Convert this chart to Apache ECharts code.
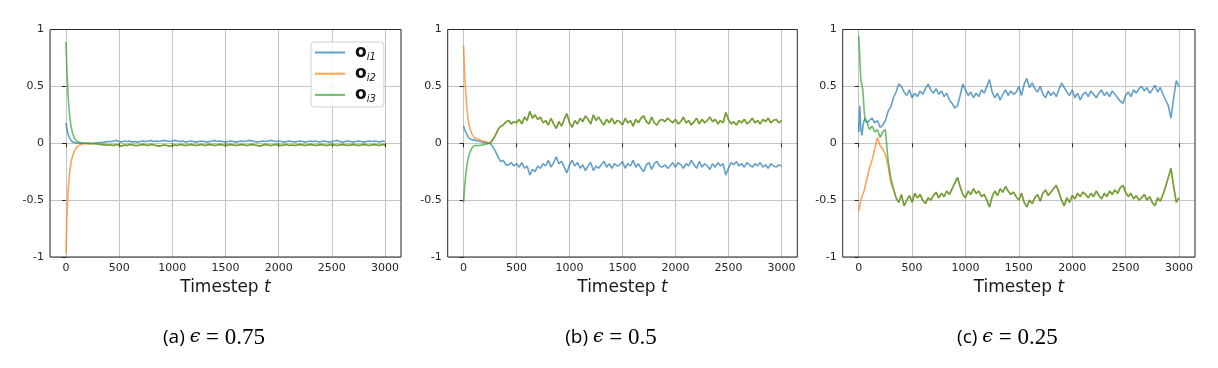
<!DOCTYPE html>
<html><head><meta charset="utf-8">
<script src="https://cdn.jsdelivr.net/npm/echarts@6/dist/echarts.min.js"></script>
<style>html,body{margin:0;padding:0;background:#fff}#c{width:1218px;height:368px}</style>
</head><body><div id="c"></div>
<script>
// ---- data ----
const SERIES_NAMES = ['o_i1', 'o_i2', 'o_i3'];
const CAPTIONS = [['(a) ', '0.75'], ['(b) ', '0.5'], ['(c) ', '0.25']];
const X_TICKS = [0, 500, 1000, 1500, 2000, 2500, 3000];
const Y_TICKS = [-1, -0.5, 0, 0.5, 1];
// timesteps: dense start, then every 25 steps
const T_EARLY = [0,10,20,30,40,50,60,80,100,125,150,175,200,225,250,275,300,325,350,375,400];
const T_TAIL = [];
for (let t = 425; t <= 3000; t += 25) T_TAIL.push(t);
const TIMES = T_EARLY.concat(T_TAIL);

// panel (a) eps=0.75
const A_O1 = [0.18,0.12,0.08,0.055,0.035,0.022,0.014,0.006,0.002,0.0,0.0,0.0,0.0,0.0,0.0,0.002,0.004,0.006,0.009,0.012,0.015,
 0.015,0.02,0.025,0.015,0.01,0.02,0.015,0.02,0.01,0.015,
 0.01,0.015,0.02,0.015,0.02,0.025,0.015,0.02,0.015,0.02,
 0.025,0.02,0.015,0.02,0.025,0.02,0.015,0.02,0.01,0.015,
 0.02,0.015,0.01,0.015,0.02,0.015,0.01,0.015,0.02,0.025,
 0.015,0.02,0.015,0.01,0.015,0.02,0.015,0.01,0.015,0.02,
 0.015,0.02,0.025,0.02,0.015,0.01,0.015,0.02,0.015,0.02,
 0.025,0.02,0.015,0.02,0.015,0.01,0.015,0.02,0.015,0.01,
 0.015,0.02,0.015,0.01,0.015,0.02,0.015,0.02,0.01,0.015,
 0.02,0.015,0.01,0.015,0.02,0.025,0.015,0.01,0.015,0.02,
 0.015,0.01,0.015,0.02,0.015,0.01,0.015,0.02,0.015,0.02,
 0.015,0.01,0.02,0.015];
const A_O2_EARLY = [-0.97,-0.62,-0.42,-0.3,-0.22,-0.16,-0.12,-0.065,-0.035,-0.017,-0.008,-0.003,-0.002];
const A_O3 = [0.89,0.62,0.42,0.29,0.2,0.14,0.095,0.045,0.02,0.008,0.003,0.0,-0.002,-0.003,-0.004,-0.005,-0.007,-0.01,-0.012,-0.014,-0.015,
 -0.015,-0.02,-0.01,-0.02,-0.025,-0.015,-0.02,-0.01,-0.015,-0.02,
 -0.02,-0.015,-0.01,-0.015,-0.02,-0.01,-0.015,-0.02,-0.025,-0.02,
 -0.015,-0.02,-0.025,-0.02,-0.015,-0.02,-0.01,-0.015,-0.02,-0.015,
 -0.01,-0.015,-0.02,-0.015,-0.01,-0.02,-0.015,-0.01,-0.015,-0.02,
 -0.015,-0.01,-0.015,-0.02,-0.015,-0.01,-0.015,-0.02,-0.015,-0.01,
 -0.015,-0.02,-0.015,-0.01,-0.015,-0.02,-0.025,-0.015,-0.01,-0.015,
 -0.02,-0.015,-0.01,-0.015,-0.02,-0.015,-0.01,-0.02,-0.015,-0.02,
 -0.015,-0.01,-0.015,-0.02,-0.015,-0.01,-0.015,-0.02,-0.015,-0.01,
 -0.015,-0.02,-0.015,-0.01,-0.015,-0.02,-0.015,-0.01,-0.015,-0.02,
 -0.015,-0.01,-0.015,-0.02,-0.015,-0.01,-0.015,-0.02,-0.015,-0.01,
 -0.015,-0.02,-0.01,-0.015];

// panel (b) eps=0.5
const B_O1 = [0.15,0.12,0.10,0.08,0.06,0.05,0.04,0.03,0.03,0.02,0.02,0.01,0.01,0.0,0.0,-0.03,-0.07,-0.12,-0.16,-0.15,-0.19,
 -0.19,-0.17,-0.20,-0.18,-0.21,-0.17,-0.22,-0.20,-0.28,-0.23,
 -0.25,-0.20,-0.22,-0.18,-0.20,-0.15,-0.21,-0.17,-0.12,-0.18,
 -0.16,-0.21,-0.26,-0.19,-0.15,-0.20,-0.17,-0.22,-0.19,-0.24,
 -0.20,-0.17,-0.24,-0.20,-0.22,-0.19,-0.16,-0.21,-0.18,-0.22,
 -0.18,-0.20,-0.19,-0.16,-0.22,-0.18,-0.20,-0.15,-0.21,-0.18,
 -0.22,-0.25,-0.19,-0.17,-0.23,-0.18,-0.16,-0.20,-0.21,-0.19,
 -0.22,-0.20,-0.17,-0.21,-0.17,-0.19,-0.22,-0.18,-0.20,-0.15,
 -0.19,-0.22,-0.16,-0.21,-0.18,-0.20,-0.23,-0.18,-0.21,-0.17,
 -0.20,-0.18,-0.28,-0.22,-0.17,-0.19,-0.16,-0.20,-0.18,-0.21,
 -0.17,-0.19,-0.21,-0.18,-0.20,-0.17,-0.21,-0.19,-0.22,-0.18,
 -0.20,-0.21,-0.19,-0.20];
const B_O2_EARLY = [0.86,0.62,0.45,0.32,0.23,0.17,0.13,0.08,0.05,0.04,0.03,0.02,0.015,0.01,0.0];
const B_O3 = [-0.52,-0.38,-0.28,-0.2,-0.15,-0.11,-0.08,-0.04,-0.02,-0.02,-0.02,-0.015,-0.01,-0.005,0.0,0.03,0.07,0.12,0.15,0.16,0.19,
 0.20,0.17,0.19,0.18,0.21,0.17,0.23,0.20,0.28,0.22,
 0.25,0.21,0.23,0.18,0.20,0.16,0.22,0.17,0.13,0.19,
 0.15,0.21,0.26,0.18,0.14,0.20,0.17,0.22,0.19,0.24,
 0.21,0.17,0.25,0.20,0.23,0.19,0.16,0.21,0.18,0.22,
 0.17,0.20,0.19,0.16,0.22,0.18,0.20,0.15,0.21,0.18,
 0.22,0.24,0.19,0.17,0.23,0.18,0.16,0.20,0.21,0.19,
 0.22,0.20,0.18,0.21,0.17,0.19,0.23,0.18,0.20,0.16,
 0.19,0.22,0.17,0.21,0.18,0.20,0.23,0.19,0.21,0.17,
 0.20,0.18,0.27,0.21,0.17,0.19,0.16,0.20,0.18,0.21,
 0.17,0.19,0.22,0.18,0.20,0.17,0.21,0.19,0.22,0.18,
 0.20,0.21,0.18,0.20];

// panel (c) eps=0.25
const C_O1 = [0.10,0.33,0.12,0.07,0.15,0.20,0.22,0.18,0.20,0.22,0.18,0.20,0.14,0.16,0.20,0.28,0.32,0.40,0.45,0.52,0.50,
 0.45,0.42,0.47,0.40,0.44,0.41,0.46,0.43,0.48,0.52,
 0.47,0.44,0.48,0.43,0.46,0.41,0.44,0.38,0.35,0.31,
 0.33,0.42,0.52,0.47,0.42,0.45,0.40,0.44,0.41,0.47,
 0.44,0.50,0.56,0.45,0.40,0.44,0.38,0.43,0.47,0.42,
 0.46,0.43,0.45,0.50,0.42,0.52,0.57,0.49,0.53,0.48,
 0.45,0.50,0.43,0.40,0.46,0.42,0.45,0.41,0.47,0.53,
 0.49,0.45,0.42,0.47,0.40,0.44,0.38,0.43,0.45,0.41,
 0.46,0.43,0.40,0.44,0.47,0.42,0.45,0.41,0.46,0.43,
 0.40,0.37,0.35,0.42,0.45,0.41,0.47,0.44,0.48,0.50,
 0.46,0.49,0.44,0.47,0.51,0.45,0.49,0.43,0.38,0.33,
 0.22,0.40,0.55,0.50];
const C_O2_EARLY = [-0.6,-0.55,-0.5,-0.47,-0.48,-0.42,-0.38,-0.3,-0.22,-0.15,-0.05,0.05,-0.02,-0.05,-0.1,-0.2,-0.35];
const C_O3 = [0.95,0.75,0.55,0.52,0.45,0.30,0.20,0.18,0.12,0.15,0.10,0.12,0.05,0.10,0.12,-0.15,-0.30,-0.40,-0.48,-0.52,-0.45,
 -0.55,-0.50,-0.46,-0.52,-0.44,-0.48,-0.45,-0.50,-0.53,-0.48,
 -0.50,-0.46,-0.43,-0.48,-0.44,-0.47,-0.42,-0.45,-0.40,-0.35,
 -0.30,-0.38,-0.45,-0.48,-0.42,-0.45,-0.40,-0.44,-0.42,-0.47,
 -0.45,-0.50,-0.56,-0.47,-0.42,-0.46,-0.40,-0.43,-0.38,-0.42,
 -0.45,-0.43,-0.47,-0.50,-0.44,-0.52,-0.56,-0.50,-0.53,-0.48,
 -0.45,-0.51,-0.44,-0.41,-0.46,-0.43,-0.40,-0.37,-0.43,-0.50,
 -0.55,-0.48,-0.52,-0.46,-0.49,-0.44,-0.47,-0.43,-0.45,-0.48,
 -0.44,-0.47,-0.42,-0.46,-0.49,-0.44,-0.47,-0.42,-0.45,-0.41,
 -0.44,-0.39,-0.37,-0.43,-0.47,-0.44,-0.49,-0.46,-0.50,-0.48,
 -0.45,-0.50,-0.47,-0.52,-0.55,-0.48,-0.51,-0.45,-0.38,-0.30,
 -0.22,-0.38,-0.52,-0.48];

// ---- build ----
const COLORS = ['#1f77b4', '#ff7f0e', '#2ca02c'];
const X_MIN = -150, X_MAX = 3150;
const PANELS = [
  { left: 50, width: 351, o1: A_O1, o2e: A_O2_EARLY, o3: A_O3 },
  { left: 447.7, width: 349.6, o1: B_O1, o2e: B_O2_EARLY, o3: B_O3 },
  { left: 842.7, width: 352.3, o1: C_O1, o2e: C_O2_EARLY, o3: C_O3 }
];
const TOP = 29.5, HEIGHT = 227.5;
const FONT = 'DejaVu Sans';
const plain = v => String(v);

function pairs(vals) { return vals.map((v, i) => [TIMES[i], v]); }

const grid = [], xAxis = [], yAxis = [], series = [], title = [];
PANELS.forEach((p, k) => {
  const o2 = p.o2e.concat(p.o3.slice(p.o2e.length));
  const inL = p.left + p.width * (0 - X_MIN) / (X_MAX - X_MIN);
  const inW = p.width * 3000 / (X_MAX - X_MIN);
  grid.push({ left: p.left, top: TOP, width: p.width, height: HEIGHT, show: true, borderColor: '#262626', borderWidth: 1, backgroundColor: 'transparent', z: 3 });
  grid.push({ left: inL, top: TOP, width: inW, height: HEIGHT, show: false });
  const gOut = 2 * k, gIn = 2 * k + 1;
  xAxis.push({ type: 'value', gridIndex: gOut, min: X_MIN, max: X_MAX, show: false });
  xAxis.push({ type: 'value', gridIndex: gIn, min: X_TICKS[0], max: X_TICKS[X_TICKS.length - 1], interval: X_TICKS[1] - X_TICKS[0], position: 'bottom',
    axisLine: { show: false },
    axisTick: { show: true, length: 4, lineStyle: { color: '#262626', width: 1 } },
    axisLabel: { show: true, margin: 6, color: '#262626', fontFamily: FONT, fontSize: 11, formatter: plain },
    splitLine: { show: true, lineStyle: { color: '#c4c4c4', width: 1 } },
    name: 'Timestep {i|t}', nameLocation: 'middle', nameGap: 20,
    nameTextStyle: { color: '#1a1a1a', fontFamily: FONT, fontSize: 17,
      rich: { i: { fontStyle: 'italic', fontFamily: FONT, fontSize: 17, color: '#1a1a1a' } } }
  });
  yAxis.push({ type: 'value', gridIndex: gOut, min: Y_TICKS[0], max: Y_TICKS[Y_TICKS.length - 1], interval: Y_TICKS[1] - Y_TICKS[0],
    axisLine: { show: false },
    axisTick: { show: true, length: 4, lineStyle: { color: '#262626', width: 1 } },
    axisLabel: { show: true, margin: 6, color: '#262626', fontFamily: FONT, fontSize: 11, formatter: plain },
    splitLine: { show: true, lineStyle: { color: '#c4c4c4', width: 1 } }
  });
  yAxis.push({ type: 'value', gridIndex: gIn, min: -1, max: 1, show: false });
  [p.o1, o2, p.o3].forEach((vals, j) => {
    series.push({ type: 'line', name: SERIES_NAMES[j], xAxisIndex: gOut, yAxisIndex: gOut,
      data: pairs(vals), symbol: 'none', showSymbol: false, animation: false, z: 2 + j * 0.01,
      color: COLORS[j], itemStyle: { color: COLORS[j] },
      lineStyle: { color: COLORS[j], width: 1.6, opacity: 0.7 } });
  });
  title.push({ left: p.left + p.width / 2 - 16.5, top: 321, textAlign: 'center',
    text: '{s|' + CAPTIONS[k][0] + '}{e|ϵ}{m| = ' + CAPTIONS[k][1] + '}',
    textStyle: { fontWeight: 'normal', rich: {
      s: { fontFamily: 'Open Sans', fontSize: 19, fontWeight: 'normal', color: '#000' },
      e: { fontFamily: 'DejaVu Serif', fontStyle: 'italic', fontWeight: 'normal', fontSize: 19, color: '#000' },
      m: { fontFamily: 'Liberation Serif', fontWeight: 'normal', fontSize: 23, color: '#000' } } } });
});

const chart = echarts.init(document.getElementById('c'), null, { renderer: 'canvas' });
chart.setOption({
  animation: false,
  backgroundColor: '#fff',
  title, grid, xAxis, yAxis, series,
  legend: {
    data: SERIES_NAMES, orient: 'vertical', left: 311, top: 42,
    icon: 'rect', itemWidth: 30, itemHeight: 2, itemGap: 2.7,
    itemStyle: { opacity: 0.7 },
    padding: [2, 8, 2, 4],
    backgroundColor: 'rgba(255,255,255,0.85)', borderColor: '#d0d0d0', borderWidth: 1, borderRadius: 3,
    selectedMode: false,
    formatter: n => '{o|o}{s|' + n.slice(2) + '}',
    textStyle: { rich: {
      o: { fontFamily: FONT, fontWeight: 'bold', fontSize: 17, color: '#111', lineHeight: 20, padding: [0, 0, 0, 5] },
      s: { fontFamily: FONT, fontStyle: 'italic', fontSize: 10, color: '#111', lineHeight: 20, verticalAlign: 'bottom', padding: [6, 0, 0, 0] } } }
  }
});
</script></body></html>
